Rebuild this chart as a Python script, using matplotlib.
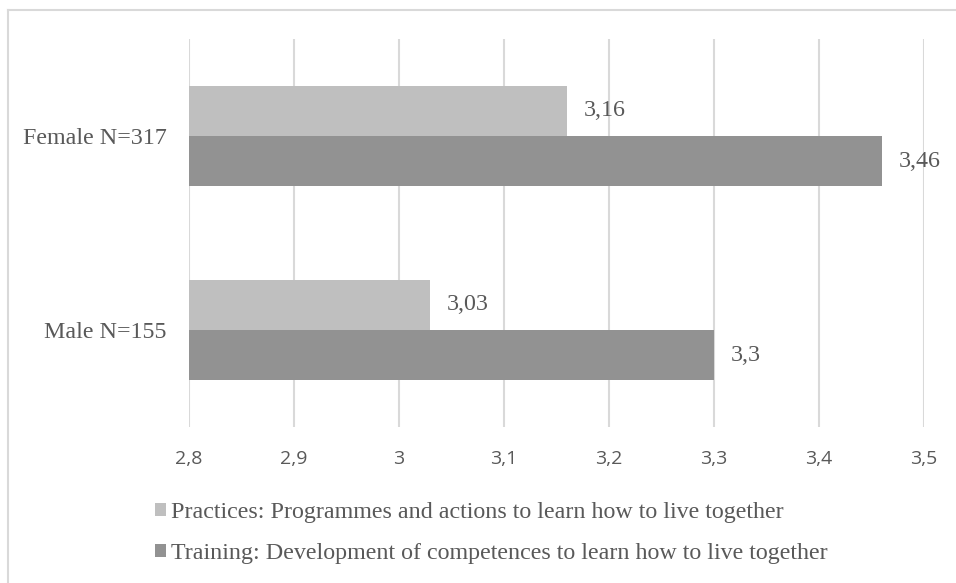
import matplotlib
matplotlib.use("Agg")
import matplotlib.pyplot as plt
from matplotlib.lines import Line2D
from matplotlib.patches import Patch
import numpy as np

categories = ["Male N=155", "Female N=317"]
practices = [3.03, 3.16]
training = [3.30, 3.46]
series_names = ["Practices: Programmes and actions to learn how to live together",
                "Training: Development of competences to learn how to live together"]
xticks = [2.8, 2.9, 3.0, 3.1, 3.2, 3.3, 3.4, 3.5]

def fmt(v):
    s = f"{v:.2f}".rstrip("0").rstrip(".")
    return s.replace(".", ",")

W, H = 956, 583
fig = plt.figure(figsize=(W/100, H/100), dpi=100)
ax = fig.add_axes([189/W, 1-427/H, (924-189)/W, (427-39)/H])

light = "#BFBFBF"
dark = "#929292"
txt = "#595959"
grid = "#D9D9D9"
serif = "Liberation Serif"
sans = "Open Sans"
fs = 17.3

y = np.arange(len(categories))
h = 0.26
ax.barh(y + h/2, [p - 2.8 for p in practices], left=2.8, height=h, color=light, zorder=3)
ax.barh(y - h/2, [t - 2.8 for t in training], left=2.8, height=h, color=dark, zorder=3)

for yy, v in zip(y + h/2, practices):
    ax.annotate(fmt(v), (v, yy), xytext=(12, 0), textcoords="offset points",
                va="center", ha="left", fontsize=fs, family=serif, color=txt)
for yy, v in zip(y - h/2, training):
    ax.annotate(fmt(v), (v, yy), xytext=(12, 0), textcoords="offset points",
                va="center", ha="left", fontsize=fs, family=serif, color=txt)

ax.set_xlim(2.8, 3.5)
ax.set_ylim(-0.5, 1.5)
ax.tick_params(axis="both", length=0)
ax.tick_params(axis="y", pad=16)
ax.tick_params(axis="x", pad=27)
ax.set_xticks(xticks)
ax.set_xticklabels([fmt(v) for v in xticks], family=sans, fontsize=14, color=txt)
ax.set_yticks(y)
ax.set_yticklabels(categories, family=serif, fontsize=fs, color=txt)
for lbl in ax.get_xticklabels():
    lbl.set_verticalalignment("baseline")
for s in ax.spines.values():
    s.set_visible(False)
ax.xaxis.grid(True, color=grid, lw=1.5, zorder=0)
ax.set_axisbelow(True)

handles = [Patch(facecolor=light, edgecolor="none"), Patch(facecolor=dark, edgecolor="none")]
leg = fig.legend(handles, series_names, loc="upper left", bbox_to_anchor=(155/W, 1-502/H),
                 frameon=False, prop={"family": serif, "size": fs},
                 handlelength=0.45, handleheight=0.45, handletextpad=0.2, labelspacing=0.85,
                 borderaxespad=0, borderpad=0)
for t in leg.get_texts():
    t.set_color(txt)

fig.add_artist(Line2D([8/W, 8/W], [0, 1-10/H], transform=fig.transFigure, color=grid, lw=1.5))
fig.add_artist(Line2D([8/W, 1], [1-10/H, 1-10/H], transform=fig.transFigure, color=grid, lw=1.5))

fig.savefig("out.png", dpi=100, facecolor="white")
